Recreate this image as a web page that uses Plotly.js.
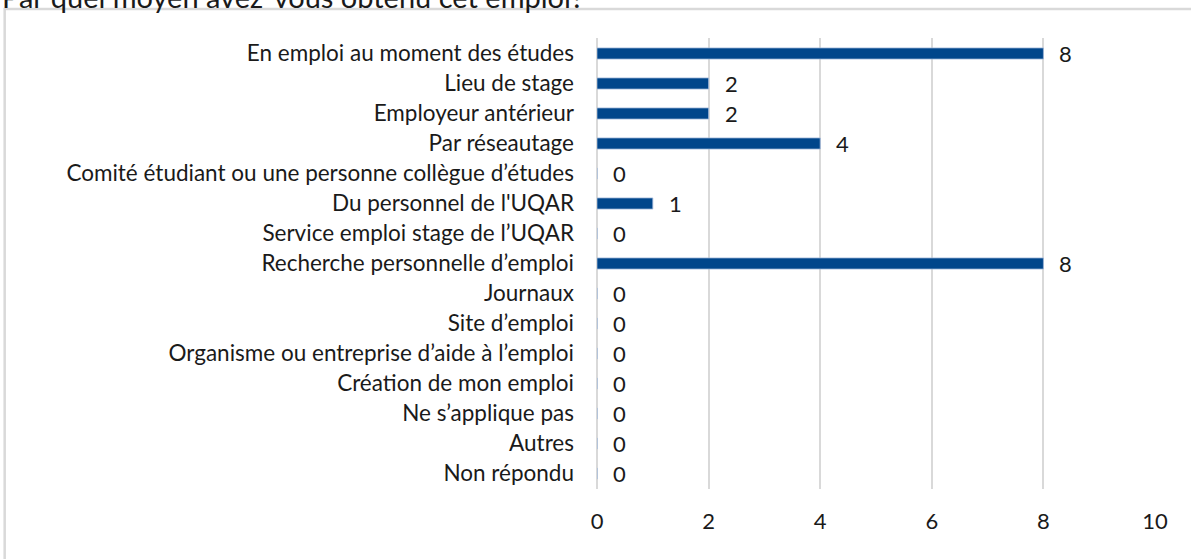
<!DOCTYPE html>
<html>
<head>
<meta charset="utf-8">
<script src="https://cdn.plot.ly/plotly-3.0.1.min.js"></script>
<style>
  html, body { margin: 0; padding: 0; background: #ffffff; }
  #chart { width: 1191px; height: 559px; }
</style>
</head>
<body>
<div id="chart"></div>
<script>
const chartTitle = "Par quel moyen avez-vous obtenu cet emploi?";
const categories = [
  "En emploi au moment des études",
  "Lieu de stage",
  "Employeur antérieur",
  "Par réseautage",
  "Comité étudiant ou une personne collègue d’études",
  "Du personnel de l'UQAR",
  "Service emploi stage de l’UQAR",
  "Recherche personnelle d’emploi",
  "Journaux",
  "Site d’emploi",
  "Organisme ou entreprise d’aide à l’emploi",
  "Création de mon emploi",
  "Ne s’applique pas",
  "Autres",
  "Non répondu"
];
const values = [8, 2, 2, 4, 0, 1, 0, 8, 0, 0, 0, 0, 0, 0, 0];
const xTickValues = [0, 2, 4, 6, 8, 10];

const FONT = "Lato, 'Open Sans', sans-serif";
const TEXT_COLOR = "#1a1a1a";
const GRID = "#d9d9d9";

const trace = {
  type: "bar",
  orientation: "h",
  y: categories,
  x: values,
  marker: { color: "#00468b", line: { color: "#9fb7da", width: 0.8 } },
  hoverinfo: "x+y"
};

const valueLabels = categories.map((c, i) => ({
  x: values[i],
  y: c,
  xref: "x",
  yref: "y",
  text: String(values[i]),
  showarrow: false,
  xanchor: "left",
  yanchor: "middle",
  xshift: 14,
  font: { family: FONT, size: 22, color: TEXT_COLOR }
}));

const titleAnnotation = {
  text: chartTitle,
  xref: "paper",
  yref: "paper",
  x: 0,
  y: 1,
  xanchor: "left",
  yanchor: "middle",
  xshift: -597,
  yshift: 42,
  showarrow: false,
  font: { family: FONT, size: 29, color: TEXT_COLOR }
};

const layout = {
  width: 1191,
  height: 559,
  autosize: false,
  paper_bgcolor: "#ffffff",
  plot_bgcolor: "#ffffff",
  margin: { l: 597, r: 36, t: 38, b: 70, pad: 0 },
  showlegend: false,
  bargap: 0.63,
  xaxis: {
    range: [0, 10],
    tickvals: xTickValues,
    ticktext: xTickValues.map(String),
    showgrid: true,
    gridcolor: GRID,
    gridwidth: 2,
    zeroline: true,
    zerolinecolor: GRID,
    zerolinewidth: 2,
    showline: false,
    ticks: "",
    ticklabelstandoff: 17,
    tickfont: { family: FONT, size: 22, color: TEXT_COLOR },
    fixedrange: true
  },
  yaxis: {
    type: "category",
    categoryorder: "array",
    categoryarray: categories,
    autorange: "reversed",
    showgrid: false,
    zeroline: false,
    showline: false,
    ticks: "",
    ticklabelstandoff: 22,
    tickfont: { family: FONT, size: 22.5, color: TEXT_COLOR },
    fixedrange: true
  },
  annotations: [titleAnnotation].concat(valueLabels),
  shapes: [{
    type: "rect",
    xref: "paper",
    yref: "paper",
    x0: -1.0615,
    x1: 1.3,
    y0: -0.4,
    y1: 1.0643,
    line: { color: GRID, width: 2.5 },
    fillcolor: "rgba(0,0,0,0)",
    layer: "below"
  }]
};

Plotly.newPlot("chart", [trace], layout, { displayModeBar: false, staticPlot: true });
</script>
</body>
</html>
